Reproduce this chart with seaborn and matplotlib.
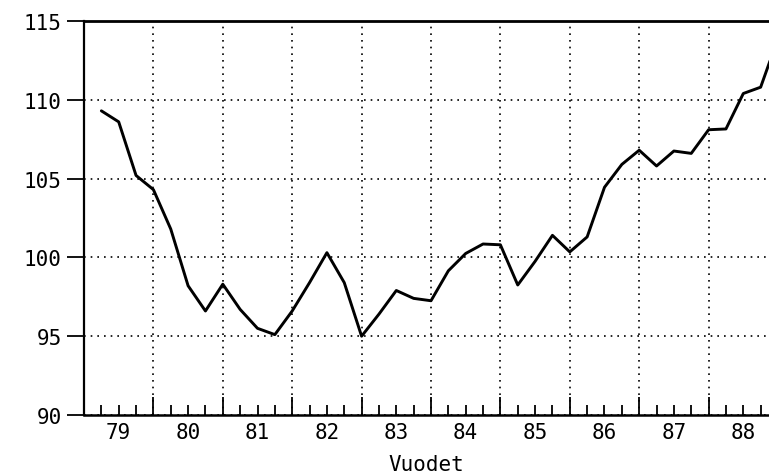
import numpy as np
import matplotlib
matplotlib.use("Agg")
import matplotlib.pyplot as plt
import seaborn as sns
import pandas as pd

# Quarterly index values 1979Q1 .. 1988Q4
values = [109.3, 108.6, 105.2, 104.3, 101.8, 98.2, 96.6, 98.3, 96.7, 95.5,
          95.1, 96.6, 98.4, 100.3, 98.4, 95.0, 96.4, 97.9, 97.4, 97.25,
          99.15, 100.25, 100.85, 100.8, 98.25, 99.75, 101.4, 100.35, 101.3, 104.45,
          105.9, 106.8, 105.8, 106.75, 106.6, 108.1, 108.15, 110.4, 110.8, 113.9]
years = [79, 80, 81, 82, 83, 84, 85, 86, 87, 88]
year_labels = ["79", "80", "81", "82", "83", "84", "85", "86", "87", "88"]
y_ticks = [90, 95, 100, 105, 110, 115]
x_label = "Vuodet"

quarters = np.arange(1, len(values) + 1) / 4.0
df = pd.DataFrame({"t": years[0] + quarters, "v": values})

sns.set_theme(style="white")
plt.rcParams["font.family"] = ["DejaVu Sans Mono", "DejaVu Sans"]

fig = plt.figure(figsize=(7.69, 4.77), dpi=100)
ax = fig.add_axes([84 / 769, 1 - 416 / 477, 1 - 84 / 769, (416 - 22) / 477])

sns.lineplot(data=df, x="t", y="v", color="black", lw=2.1, ax=ax)

ax.set_xlim(79, 79 + 685 / 69.4)
ax.set_ylim(90, 115)

# y axis
ax.set_yticks(y_ticks)
ax.set_yticklabels([str(v) for v in y_ticks], fontsize=15, color="black")
ax.tick_params(axis="y", direction="out", length=12, width=1.3, color="black", pad=4, left=True)

# x axis: long ticks at year boundaries, short at quarters
bounds = years[1:]
ax.set_xticks(bounds)
ax.set_xticklabels([""] * len(bounds))
ax.set_xticks([y + q for y in years for q in (0.25, 0.5, 0.75)], minor=True)
ax.tick_params(axis="x", which="major", direction="in", length=13, width=1.3, color="black", bottom=True)
ax.tick_params(axis="x", which="minor", direction="in", length=7, width=1.3, color="black", bottom=True)

sec = ax.secondary_xaxis("bottom")
sec.set_xticks([y + 0.5 for y in years])
sec.set_xticklabels(year_labels, fontsize=15, color="black")
sec.tick_params(length=0, pad=5)
sec.spines["bottom"].set_visible(False)
sec.set_xlabel(x_label, fontsize=15, color="black", labelpad=9)
ax.set_xlabel("")
ax.set_ylabel("")

# dotted grid
ax.grid(False)
ax.yaxis.grid(True, color="black", linestyle=(0, (1, 3)), linewidth=1.2)
ax.xaxis.grid(True, which="major", color="black", linestyle=(0, (1, 3)), linewidth=1.2)

for side in ["left", "bottom", "top"]:
    ax.spines[side].set_visible(True)
    ax.spines[side].set_color("black")
ax.spines["left"].set_linewidth(1.6)
ax.spines["bottom"].set_linewidth(1.8)
ax.spines["top"].set_linewidth(2.0)
ax.spines["right"].set_visible(False)

fig.savefig("out.png", dpi=100)
